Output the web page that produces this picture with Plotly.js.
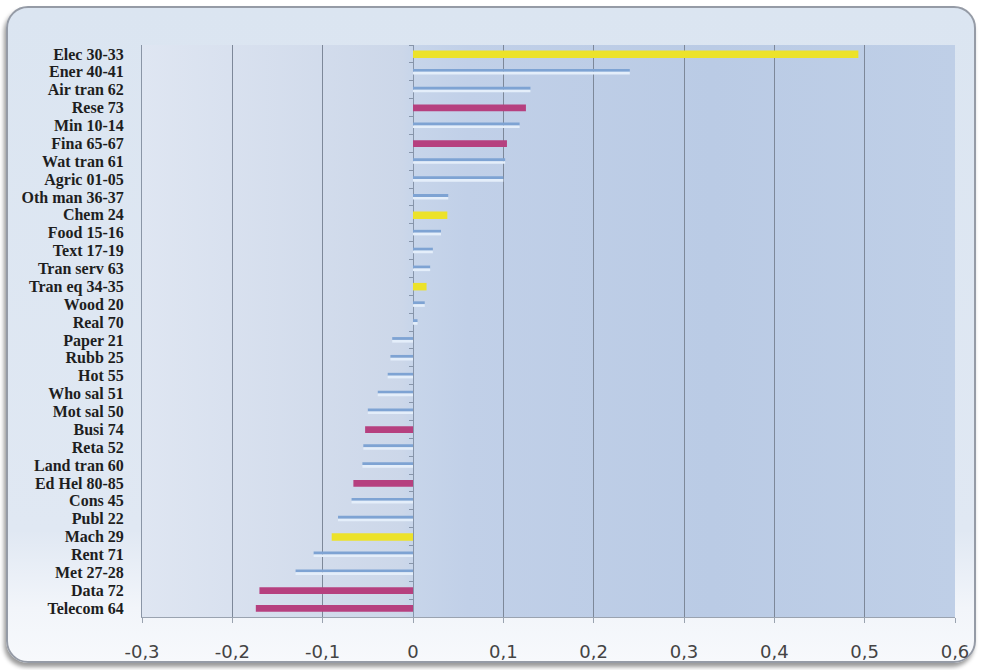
<!DOCTYPE html>
<html>
<head>
<meta charset="utf-8">
<script src="https://cdn.plot.ly/plotly-3.0.1.min.js"></script>
<style>
  html, body { margin: 0; padding: 0; background: #ffffff; }
  #wrap { position: relative; width: 982px; height: 670px; overflow: hidden; }
  #frame {
    position: absolute; left: 6px; top: 6px; width: 966px; height: 653px;
    border: 2px solid #959ba6; border-radius: 22px;
    background: linear-gradient(to bottom, #dbe5f1 0%, #e0e8f3 80%, #f2f5fa 92%, #f7f9fc 100%);
    box-shadow: -2px 4px 4px rgba(0,0,0,0.4);
  }
  #chart { position: absolute; left: 0; top: 0; width: 982px; height: 670px; }
</style>
</head>
<body>
<div id="wrap">
  <div id="frame"></div>
  <div id="chart"></div>
</div>
<script>
// Sectors, top to bottom
const categories = [
  "Elec 30-33", "Ener 40-41", "Air tran 62", "Rese 73", "Min 10-14", "Fina 65-67",
  "Wat tran 61", "Agric 01-05", "Oth man 36-37", "Chem 24", "Food 15-16", "Text 17-19",
  "Tran serv 63", "Tran eq 34-35", "Wood 20", "Real 70", "Paper 21", "Rubb 25",
  "Hot 55", "Who sal 51", "Mot sal 50", "Busi 74", "Reta 52", "Land tran 60",
  "Ed Hel 80-85", "Cons 45", "Publ 22", "Mach 29", "Rent 71", "Met 27-28",
  "Data 72", "Telecom 64"
];

const values = [
  0.493, 0.240, 0.130, 0.125, 0.118, 0.104,
  0.102, 0.100, 0.039, 0.038, 0.031, 0.022,
  0.019, 0.015, 0.013, 0.005, -0.023, -0.025,
  -0.028, -0.039, -0.050, -0.053, -0.055, -0.056,
  -0.066, -0.068, -0.083, -0.090, -0.110, -0.130,
  -0.170, -0.174
];

// Y = highlighted (yellow), M = services (magenta), B = other (blue)
const groups = [
  "Y", "B", "B", "M", "B", "M",
  "B", "B", "B", "Y", "B", "B",
  "B", "Y", "B", "B", "B", "B",
  "B", "B", "B", "M", "B", "B",
  "M", "B", "B", "Y", "B", "B",
  "M", "M"
];

const tickValues = [-0.3, -0.2, -0.1, 0, 0.1, 0.2, 0.3, 0.4, 0.5, 0.6];
const tickLabels = ["-0,3", "-0,2", "-0,1", "0", "0,1", "0,2", "0,3", "0,4", "0,5", "0,6"];

function pick(g) {
  const x = [], y = [];
  groups.forEach((k, i) => { if (k === g) { x.push(values[i]); y.push(categories[i]); } });
  return { x, y };
}

const yel = pick("Y"), mag = pick("M"), blu = pick("B");

const traces = [
  // light highlight under the thin blue bars
  { type: "bar", orientation: "h", x: blu.x, y: blu.y, yaxis: "y2",
    width: 0.15, offset: 0.0, marker: { color: "#e4eefa", line: { width: 0 } },
    hoverinfo: "skip" },
  { type: "bar", orientation: "h", x: blu.x, y: blu.y,
    width: 0.16, offset: -0.16, marker: { color: "#7ea3d3", line: { width: 0 } } },
  { type: "bar", orientation: "h", x: mag.x, y: mag.y,
    width: 0.38, offset: -0.17, marker: { color: "#b6407f", line: { width: 0 } } },
  { type: "bar", orientation: "h", x: yel.x, y: yel.y,
    width: 0.42, offset: -0.19, marker: { color: "#ece22a", line: { width: 0 } } }
];

const bgSvg =
  '<svg xmlns="http://www.w3.org/2000/svg" width="800" height="600" preserveAspectRatio="none">' +
  '<defs><linearGradient id="g" x1="0" y1="0" x2="1" y2="0">' +
  '<stop offset="0" stop-color="#dfe6f2"/>' +
  '<stop offset="0.32" stop-color="#ccd7e9"/>' +
  '<stop offset="0.334" stop-color="#c7d5ea"/>' +
  '<stop offset="0.40" stop-color="#c1d0e8"/>' +
  '<stop offset="0.70" stop-color="#bacbe5"/>' +
  '<stop offset="1" stop-color="#bfcfe7"/>' +
  '</linearGradient></defs>' +
  '<rect width="800" height="600" fill="url(#g)"/></svg>';

const layout = {
  width: 982, height: 670,
  margin: { l: 142, r: 27, t: 45, b: 53 },
  paper_bgcolor: "rgba(0,0,0,0)",
  plot_bgcolor: "rgba(0,0,0,0)",
  separators: ", ",
  showlegend: false,
  barmode: "overlay",
  images: [{
    source: "data:image/svg+xml;charset=utf-8," + encodeURIComponent(bgSvg),
    xref: "paper", yref: "paper", x: 0, y: 1, sizex: 1, sizey: 1,
    sizing: "stretch", xanchor: "left", yanchor: "top", layer: "below"
  }],
  xaxis: {
    range: [-0.3, 0.6],
    tickvals: tickValues, ticktext: tickLabels,
    showgrid: true, gridcolor: "#7d8899", gridwidth: 1,
    zeroline: true, zerolinecolor: "#8795aa", zerolinewidth: 1,
    showline: true, linecolor: "#9aa3b0", linewidth: 1,
    ticks: "outside", ticklen: 5, tickcolor: "#9aa3b0",
    ticklabelstandoff: 13,
    tickfont: { family: "DejaVu Sans, sans-serif", size: 18, color: "#444444" },
    fixedrange: true
  },
  yaxis: {
    type: "category",
    categoryorder: "array", categoryarray: categories,
    tickmode: "array", tickvals: categories, ticktext: categories,
    autorange: "reversed",
    showgrid: false, zeroline: false,
    showline: true, linecolor: "#8a95a6", linewidth: 1,
    ticks: "", ticklabelstandoff: 14,
    tickfont: { family: "Liberation Serif, serif", size: 16, color: "#1e1e1e", weight: "bold" },
    fixedrange: true
  },
  yaxis2: {
    type: "category",
    categoryorder: "array", categoryarray: categories,
    overlaying: "y", matches: "y",
    anchor: "free", position: 1 / 3, side: "left",
    showticklabels: false, showgrid: false, zeroline: false, showline: false,
    ticks: "outside", ticklen: 4, tickcolor: "#8795aa", tickson: "boundaries",
    fixedrange: true
  }
};

Plotly.newPlot("chart", traces, layout, { displayModeBar: false, staticPlot: true });
</script>
</body>
</html>
